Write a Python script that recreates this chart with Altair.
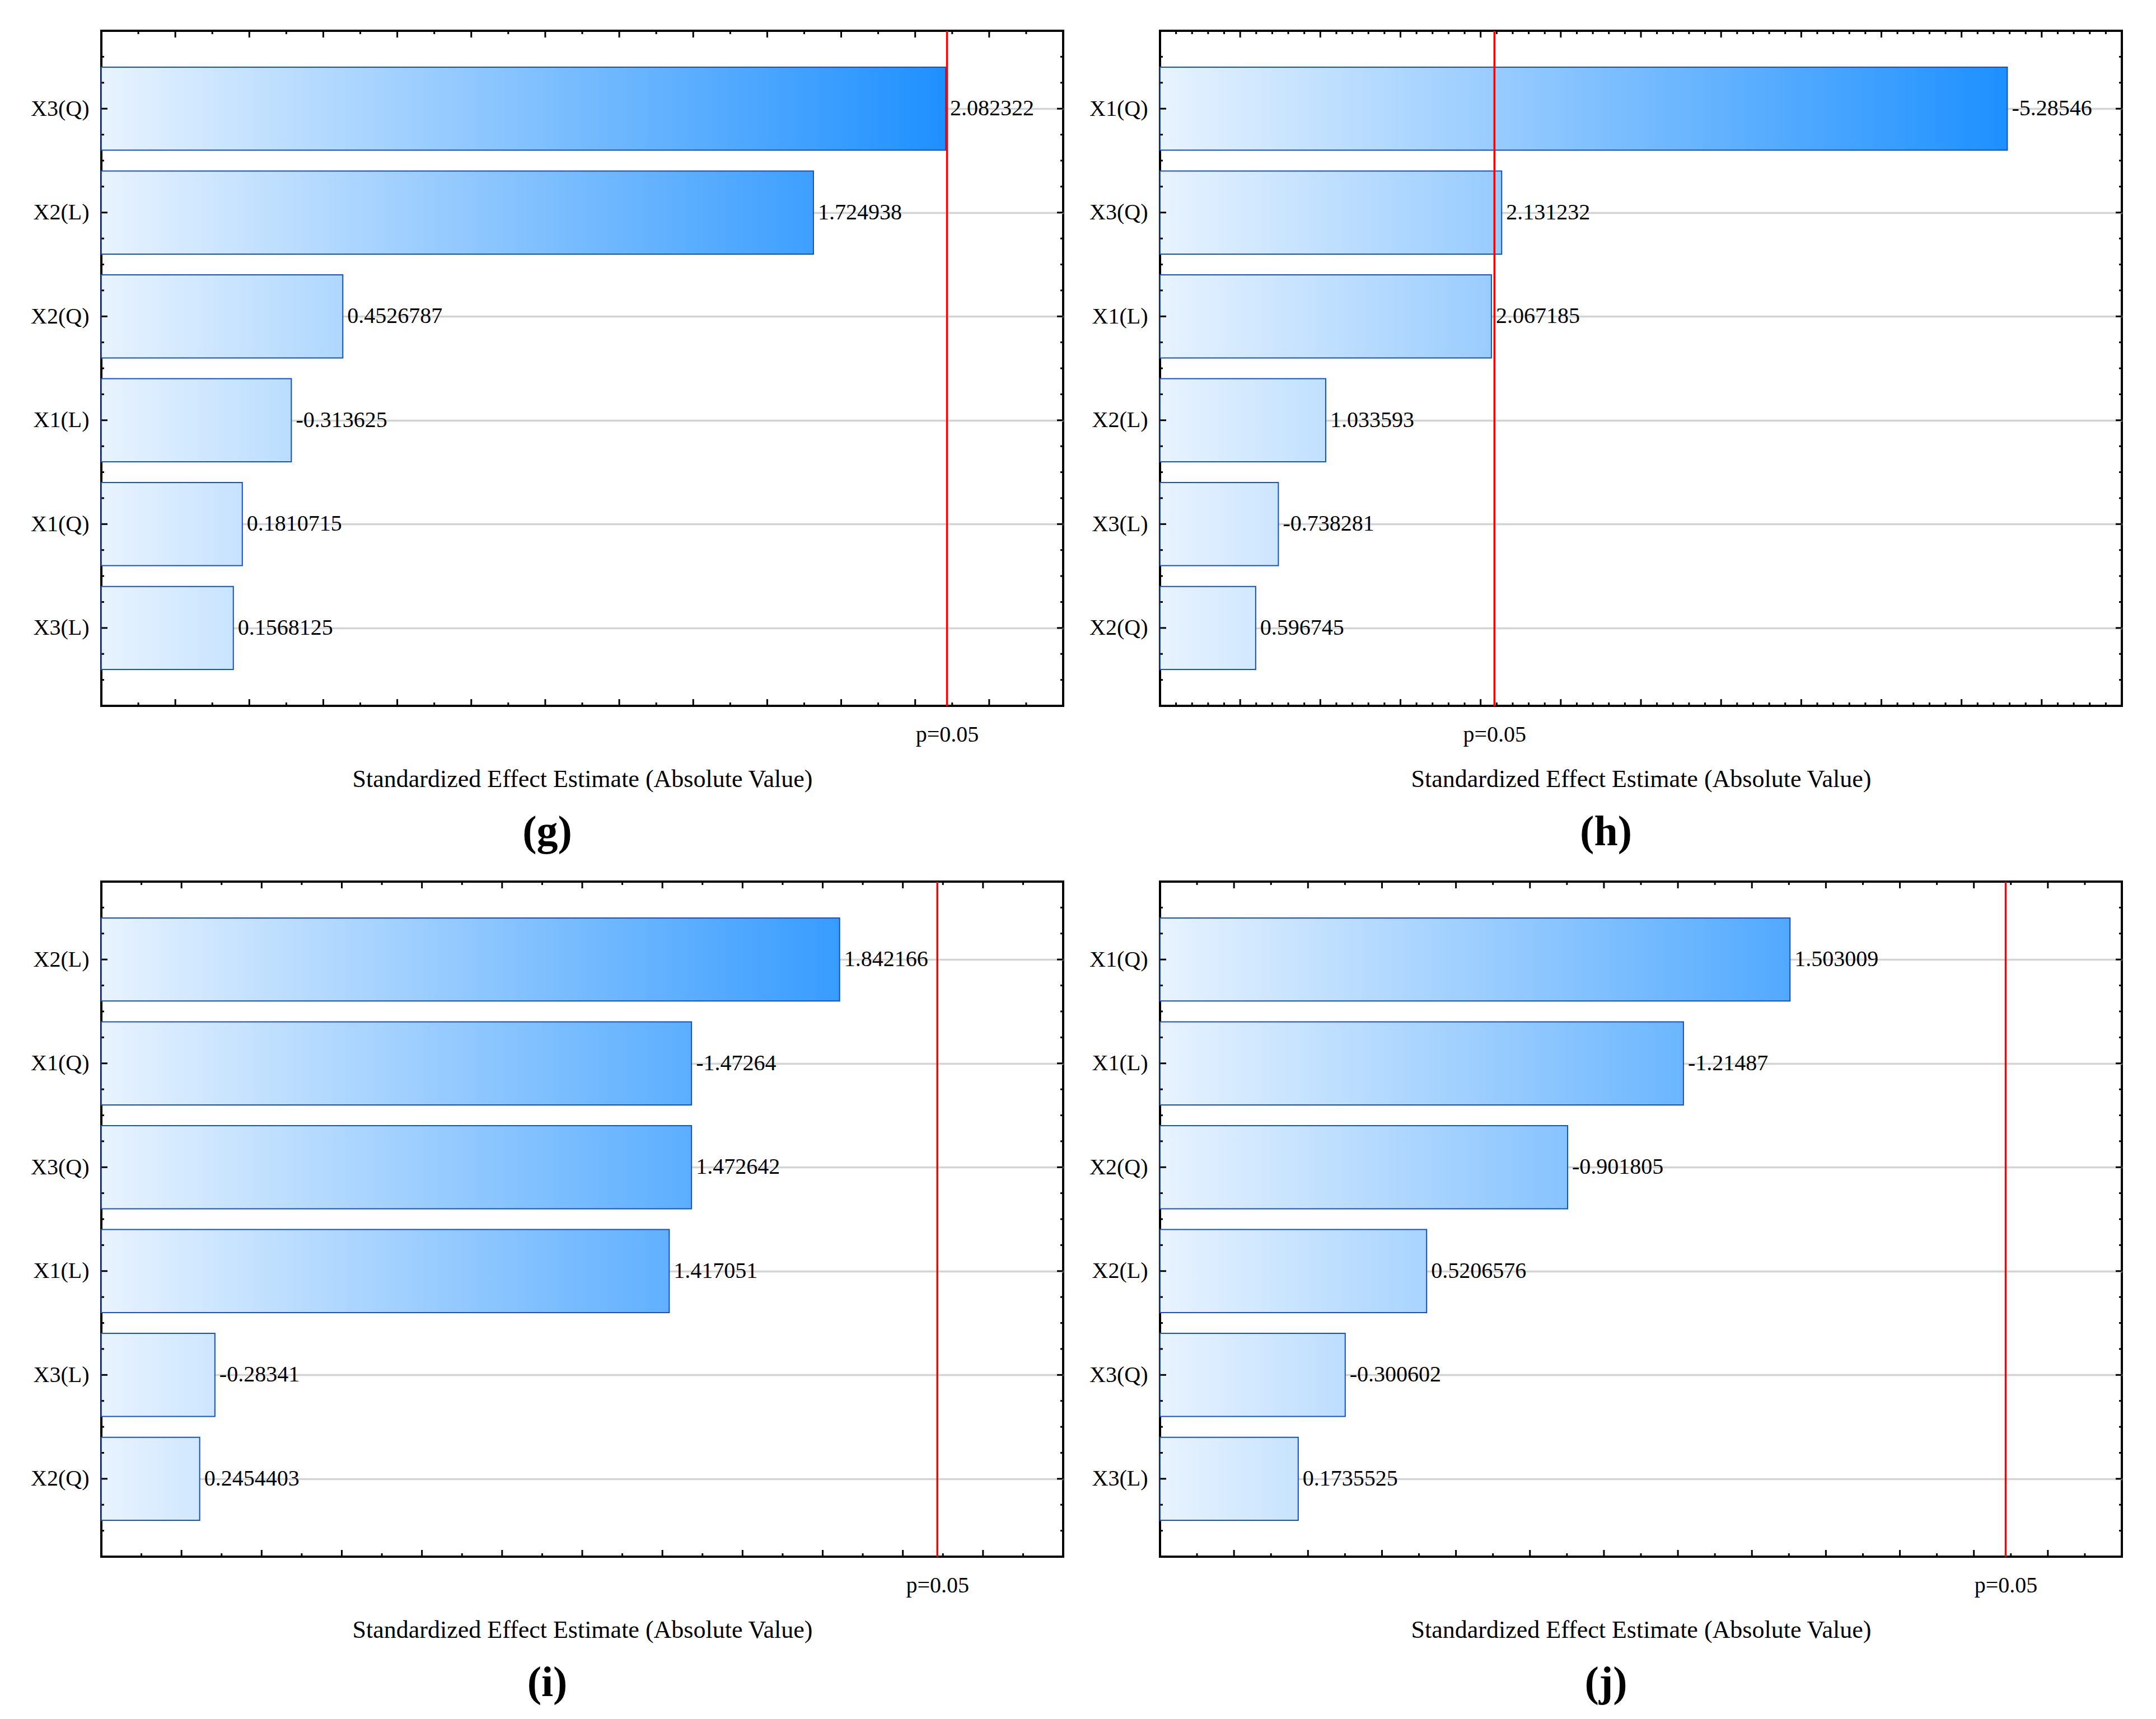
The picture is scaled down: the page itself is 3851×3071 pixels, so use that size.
import altair as alt

FONT = "Liberation Serif"

# ---------------- data ----------------
PANEL_LABELS = ["(g)", "(h)", "(i)", "(j)"]

NAMES_G = ["X3(Q)", "X2(L)", "X2(Q)", "X1(L)", "X1(Q)", "X3(L)"]
VALUES_G = [2.082322, 1.724938, 0.4526787, -0.313625, 0.1810715, 0.1568125]

NAMES_H = ["X1(Q)", "X3(Q)", "X1(L)", "X2(L)", "X3(L)", "X2(Q)"]
VALUES_H = [-5.28546, 2.131232, 2.067185, 1.033593, -0.738281, 0.596745]

NAMES_I = ["X2(L)", "X1(Q)", "X3(Q)", "X1(L)", "X3(L)", "X2(Q)"]
VALUES_I = [1.842166, -1.47264, 1.472642, 1.417051, -0.28341, 0.2454403]

NAMES_J = ["X1(Q)", "X1(L)", "X2(Q)", "X2(L)", "X3(Q)", "X3(L)"]
VALUES_J = [1.503009, -1.21487, -0.901805, 0.5206576, -0.300602, 0.1735525]

X_DOMAINS = [[-0.2, 2.4], [0.0, 6.0], [0.0, 2.4], [-0.2, 2.4]]
X_MAJOR_STEP = [0.2, 0.5, 0.2, 0.2]
X_MINOR_STEP = [0.1, 0.1, 0.1, 0.1]
T_CRIT = [2.086, 2.086, 2.086, 2.086]  # p = 0.05 reference line
P_LABEL = "p=0.05"
X_TITLE = "Standardized Effect Estimate (Absolute Value)"

# ---------------- style ----------------
W, H = 1718, 1206
FS = 40
TITLE_FS = 44
C0 = (232, 243, 254)      # light end of gradient
C1 = (30, 144, 255)       # dark end of gradient
C1_AT = 0.877             # fraction of plot width where dark colour is reached
BAR_STROKE = "#1450c8"
GRID = "#d4d4d4"


def hexc(c):
    return "#%02x%02x%02x" % tuple(int(round(max(0, min(255, v)))) for v in c)


def grad_for(frac):
    t = frac / C1_AT
    end = tuple(C0[k] + (C1[k] - C0[k]) * t for k in range(3))
    return {
        "gradient": "linear", "x1": 0, "y1": 0, "x2": 1, "y2": 0,
        "stops": [{"offset": 0, "color": hexc(C0)}, {"offset": 1, "color": hexc(end)}],
    }


def panel(names, values, dom, major, minor, tcrit, label):
    lo, hi = dom
    xs = alt.Scale(domain=dom, nice=False, zero=False)
    ys = alt.Scale(domain=[0.25, 6.75], nice=False, zero=False, reverse=True)

    label_expr = "[" + ",".join("'%s'" % n for n in names) + "][datum.value - 1]"
    xaxis = alt.Axis(
        values=[tcrit], labelExpr="'%s'" % P_LABEL, ticks=False, domain=False,
        grid=False, labelPadding=31, titlePadding=38, title=X_TITLE,
        labelFontSize=FS, titleFontSize=TITLE_FS, labelFont=FONT, titleFont=FONT,
        titleFontWeight="normal", labelColor="black", titleColor="black",
        labelFlush=False)
    yaxis = alt.Axis(
        values=[1, 2, 3, 4, 5, 6], labelExpr=label_expr, ticks=False, domain=False,
        grid=True, gridColor=GRID, gridWidth=3.5, labelPadding=22, title="",
        labelFontSize=FS, labelFont=FONT, labelColor="black")

    recs = []
    for k, (n, v) in enumerate(zip(names, values)):
        a = abs(v)
        recs.append({
            "name": n, "rank": k + 1, "y0": k + 1 - 0.4, "y1": k + 1 + 0.4,
            "lo": lo, "absval": a, "label": repr(v),
            "grad": grad_for((a - lo) / (hi - lo)),
        })
    data = alt.Data(values=recs)

    bars = alt.Chart(data).mark_rect(stroke=BAR_STROKE, strokeWidth=2).encode(
        x=alt.X("lo:Q", scale=xs, axis=xaxis, title=X_TITLE),
        x2="absval:Q",
        y=alt.Y("y0:Q", scale=ys, axis=yaxis, title=""),
        y2="y1:Q",
        fill=alt.Fill("grad:N", scale=None),
    )

    texts = alt.Chart(data).mark_text(
        align="left", baseline="middle", dx=8, fontSize=FS, font=FONT, color="black"
    ).encode(
        x=alt.X("absval:Q", scale=xs, axis=xaxis, title=X_TITLE),
        y=alt.Y("rank:Q", scale=ys, axis=yaxis, title=""),
        text="label:N",
    )

    red = alt.Chart(alt.Data(values=[{"t": tcrit}])).mark_rule(
        color="#ff0000", strokeWidth=3.5
    ).encode(x=alt.X("t:Q", scale=xs, axis=xaxis, title=X_TITLE))

    # tick positions (inward ticks on all four sides)
    n_x = int(round((hi - lo) / minor))
    xt = [round(lo + i * minor, 6) for i in range(1, n_x)]
    x_major = [t for t in xt if abs(t / major - round(t / major)) < 1e-6]
    x_minor = [t for t in xt if t not in x_major]
    yt = [0.25 * i for i in range(2, 27)]
    y_major = [t for t in yt if abs(t - round(t)) < 1e-6]
    y_minor = [t for t in yt if t not in y_major]

    def xticks(vals, length):
        d = alt.Data(values=[{"t": t} for t in vals])
        base = alt.Chart(d).mark_rule(color="black", strokeWidth=3)
        bot = base.encode(x=alt.X("t:Q", scale=xs, axis=xaxis, title=X_TITLE),
                          y=alt.value(H), y2=alt.value(H - length))
        top = base.encode(x=alt.X("t:Q", scale=xs, axis=xaxis, title=X_TITLE),
                          y=alt.value(0), y2=alt.value(length))
        return [bot, top]

    def yticks(vals, length):
        d = alt.Data(values=[{"t": t} for t in vals])
        base = alt.Chart(d).mark_rule(color="black", strokeWidth=3)
        left = base.encode(y=alt.Y("t:Q", scale=ys, axis=yaxis, title=""),
                           x=alt.value(0), x2=alt.value(length))
        right = base.encode(y=alt.Y("t:Q", scale=ys, axis=yaxis, title=""),
                            x=alt.value(W - length), x2=alt.value(W))
        return [left, right]

    layers = [bars, texts, red] + xticks(x_major, 12) + xticks(x_minor, 6) \
        + yticks(y_major, 11) + yticks(y_minor, 5)

    return alt.layer(*layers).properties(
        width=W, height=H,
        title=alt.TitleParams(label, orient="bottom", anchor="middle", frame="bounds",
                              fontSize=76, fontWeight="bold", font=FONT, color="black",
                              offset=36),
    )


pg = panel(NAMES_G, VALUES_G, X_DOMAINS[0], X_MAJOR_STEP[0], X_MINOR_STEP[0], T_CRIT[0], PANEL_LABELS[0])
ph = panel(NAMES_H, VALUES_H, X_DOMAINS[1], X_MAJOR_STEP[1], X_MINOR_STEP[1], T_CRIT[1], PANEL_LABELS[1])
pi = panel(NAMES_I, VALUES_I, X_DOMAINS[2], X_MAJOR_STEP[2], X_MINOR_STEP[2], T_CRIT[2], PANEL_LABELS[2])
pj = panel(NAMES_J, VALUES_J, X_DOMAINS[3], X_MAJOR_STEP[3], X_MINOR_STEP[3], T_CRIT[3], PANEL_LABELS[3])

chart = alt.vconcat(
    alt.hconcat(pg, ph, spacing=40),
    alt.hconcat(pi, pj, spacing=40),
    spacing=44,
).properties(
    padding={"left": 44, "top": 43, "right": 10, "bottom": 10},
    background="white",
).configure_view(
    stroke="black", strokeWidth=4
)

chart.save("out.html", embed_options={"renderer": "svg", "actions": False})
